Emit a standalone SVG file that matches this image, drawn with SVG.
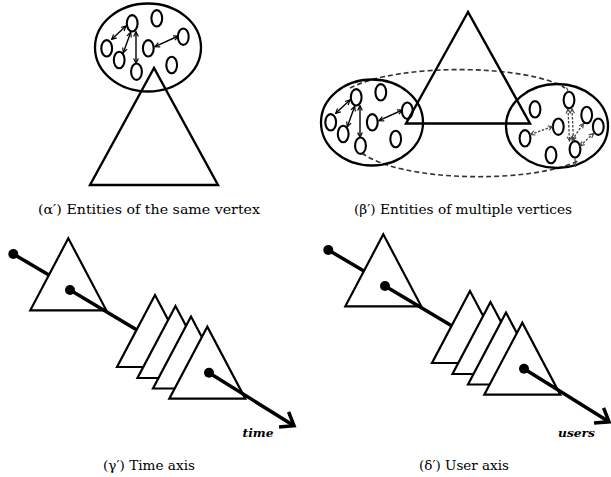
<svg xmlns="http://www.w3.org/2000/svg" xmlns:xlink="http://www.w3.org/1999/xlink" width="611" height="477" viewBox="0 0 611 477">
<style>
.ell{fill:none;stroke:#000;stroke-width:2.3}
.c{fill:none;stroke:#000;stroke-width:2.1}
.tri{fill:none;stroke:#000;stroke-width:2.4;stroke-linejoin:miter}
.trw{fill:#fff;stroke:#000;stroke-width:2.2;stroke-linejoin:miter}
.arr{stroke:#000;stroke-width:1.4;fill:none;marker-start:url(#ah);marker-end:url(#ah)}
.darr{stroke:#444;stroke-width:1.3;fill:none;stroke-dasharray:2.5 1.5;marker-start:url(#dh);marker-end:url(#dh)}
.dash{fill:none;stroke:#333;stroke-width:1.6;stroke-dasharray:5 3}
.axis{stroke:#000;stroke-width:3.5;fill:none}
.ax{stroke:#000;stroke-width:3.5;fill:none;marker-end:url(#axh)}
.dot{fill:#000}
.cap{font-family:"DejaVu Serif","Liberation Serif",serif;font-size:12.5px;fill:#000}
.lbl{font-family:"DejaVu Serif","Liberation Serif",serif;font-weight:bold;font-style:italic;font-size:11px;fill:#000}
</style>
<defs>
<marker id="ah" viewBox="0 0 8 8" refX="7" refY="4" markerWidth="4.5" markerHeight="4.5" orient="auto-start-reverse"><path d="M1,1 L7,4 L1,7" fill="none" stroke="#000" stroke-width="1.5"/></marker>
<marker id="dh" viewBox="0 0 8 8" refX="7" refY="4" markerWidth="4.5" markerHeight="4.5" orient="auto-start-reverse"><path d="M1,1 L7,4 L1,7" fill="none" stroke="#444" stroke-width="1.5"/></marker>
<marker id="axh" markerUnits="userSpaceOnUse" viewBox="-20 -14 24 28" refX="0" refY="0" markerWidth="24" markerHeight="28" orient="auto"><path d="M-12,-9 L0,0 L-12,9" fill="none" stroke="#000" stroke-width="3.5"/></marker>
<g id="ents">
<ellipse class="c" cx="132.2" cy="23.3" rx="5.4" ry="8.2"/>
<ellipse class="c" cx="156.8" cy="18.3" rx="5.4" ry="8.2"/>
<ellipse class="c" cx="106.7" cy="48.3" rx="5.4" ry="8.2"/>
<ellipse class="c" cx="119.2" cy="60" rx="5.4" ry="8.2"/>
<ellipse class="c" cx="148.3" cy="48.3" rx="5.4" ry="8.2"/>
<ellipse class="c" cx="183.3" cy="36.7" rx="5.4" ry="8.2"/>
<ellipse class="c" cx="136.5" cy="71.7" rx="5.4" ry="8.2"/>
<ellipse class="c" cx="171.7" cy="65" rx="5.4" ry="8.2"/>
<line class="arr" x1="111.7" y1="39.3" x2="126" y2="26"/>
<line class="arr" x1="123.3" y1="52.7" x2="130.7" y2="32.3"/>
<line class="arr" x1="136" y1="31.7" x2="136" y2="63.3"/>
<line class="arr" x1="155" y1="46.7" x2="178.3" y2="36"/>
</g>
</defs>

<!-- (a) same vertex -->
<g id="alpha-set">
<ellipse class="ell" cx="148" cy="47.5" rx="53" ry="44"/>
<use xlink:href="#ents"/>
</g>
<g id="alpha-vertex">
<path class="tri" d="M154,68 L90,185 L218,185 Z"/>
</g>

<!-- (b) multiple vertices -->
<g id="beta-span">
<path class="dash" d="M350,88 C400,62 530,65 565,88"/>
<path class="dash" d="M362,153 C400,182 530,184 578,161"/>
</g>
<g id="beta-left">
<ellipse class="ell" cx="372" cy="122.5" rx="51" ry="43"/>
<use xlink:href="#ents" transform="translate(224,74)"/>
</g>
<g id="beta-right">
<ellipse class="ell" cx="557" cy="126" rx="51" ry="42"/>
<ellipse class="c" cx="535" cy="109.3" rx="5.4" ry="8.2"/>
<ellipse class="c" cx="569" cy="100" rx="5.4" ry="8.2"/>
<ellipse class="c" cx="586.7" cy="115" rx="5.4" ry="8.2"/>
<ellipse class="c" cx="598.3" cy="126.7" rx="5.4" ry="8.2"/>
<ellipse class="c" cx="558.3" cy="126.7" rx="5.4" ry="8.2"/>
<ellipse class="c" cx="525" cy="138.3" rx="5.4" ry="8.2"/>
<ellipse class="c" cx="575" cy="149.3" rx="5.4" ry="8.2"/>
<ellipse class="c" cx="551" cy="155" rx="5.4" ry="8.2"/>
</g>
<g id="beta-links">
<line class="darr" x1="530.5" y1="134.5" x2="552.5" y2="126.5"/>
<line class="darr" x1="568" y1="109" x2="569.5" y2="141"/>
<line class="darr" x1="572" y1="109" x2="573.5" y2="141"/>
<line class="darr" x1="572" y1="140" x2="583.5" y2="123.5"/>
<line class="darr" x1="580" y1="146" x2="593.5" y2="133.5"/>
<line stroke="#444" stroke-width="1.2" x1="566.5" y1="87.5" x2="568.5" y2="92"/>
<line stroke="#444" stroke-width="1.2" x1="575" y1="158" x2="575.5" y2="167"/>
</g>
<g id="beta-vertex">
<path class="tri" d="M468,12 L406,123.5 L530,123.5 Z"/>
</g>

<!-- (c) time axis -->
<g id="gamma">
<line class="axis" x1="13.3" y1="254" x2="54" y2="278"/>
<circle class="dot" cx="13.3" cy="254" r="5"/>
<path class="trw" d="M68.3,238.3 L30.3,310.3 L106.3,310.3 Z"/>
<line class="axis" x1="70" y1="290" x2="142" y2="333"/>
<circle class="dot" cx="70" cy="290" r="5"/>
<path class="trw" d="M155,295 L117,367 L193,367 Z"/>
<path class="trw" d="M175.5,306 L137.5,378 L213.5,378 Z"/>
<path class="trw" d="M191,316.5 L153,388.5 L229,388.5 Z"/>
<path class="trw" d="M207.3,326.7 L169.3,398.7 L245.3,398.7 Z"/>
<line class="ax" x1="209" y1="372.7" x2="294" y2="425.8"/>
<circle class="dot" cx="209" cy="372.7" r="5"/>
<text class="lbl" x="242.5" y="437" textLength="31" lengthAdjust="spacingAndGlyphs">time</text>
</g>

<!-- (d) user axis -->
<g id="delta">
<g transform="translate(315,-4)">
<line class="axis" x1="13.3" y1="254" x2="54" y2="278"/>
<circle class="dot" cx="13.3" cy="254" r="5"/>
<path class="trw" d="M68.3,238.3 L30.3,310.3 L106.3,310.3 Z"/>
<line class="axis" x1="70" y1="290" x2="142" y2="333"/>
<circle class="dot" cx="70" cy="290" r="5"/>
<path class="trw" d="M155,295 L117,367 L193,367 Z"/>
<path class="trw" d="M175.5,306 L137.5,378 L213.5,378 Z"/>
<path class="trw" d="M191,316.5 L153,388.5 L229,388.5 Z"/>
<path class="trw" d="M207.3,326.7 L169.3,398.7 L245.3,398.7 Z"/>
<line class="ax" x1="209" y1="372.7" x2="294" y2="425.8"/>
<circle class="dot" cx="209" cy="372.7" r="5"/>
</g>
<text class="lbl" x="558" y="436.5" textLength="37" lengthAdjust="spacingAndGlyphs">users</text>
</g>

<g id="captions">
<text class="cap" x="38" y="214" textLength="222" lengthAdjust="spacingAndGlyphs">(α′) Entities of the same vertex</text>
<text class="cap" x="354" y="214" textLength="218" lengthAdjust="spacingAndGlyphs">(β′) Entities of multiple vertices</text>
<text class="cap" x="103" y="470" textLength="92" lengthAdjust="spacingAndGlyphs">(γ′) Time axis</text>
<text class="cap" x="419" y="470" textLength="90" lengthAdjust="spacingAndGlyphs">(δ′) User axis</text>
</g>
</svg>
